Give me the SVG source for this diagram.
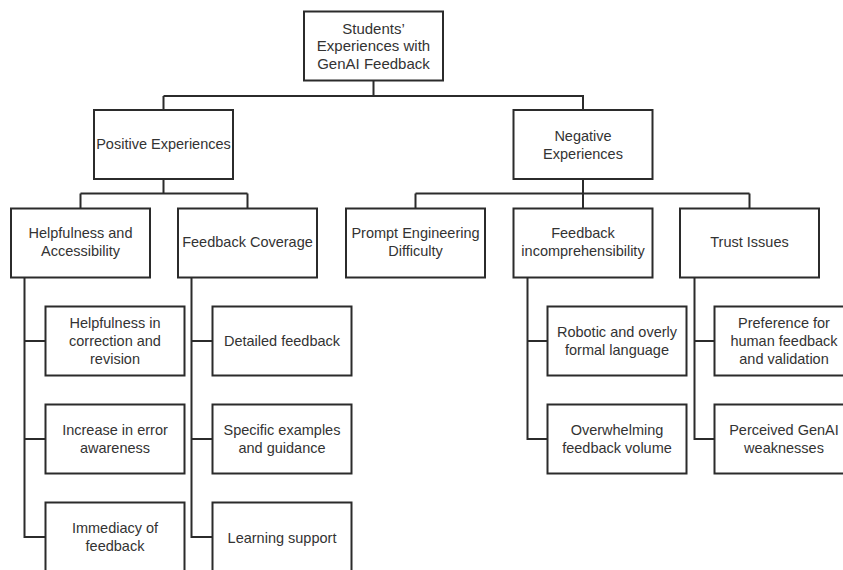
<svg xmlns="http://www.w3.org/2000/svg" width="843" height="570" viewBox="0 0 843 570">
<style>
.box{fill:#fff;stroke:#2b2b2b;stroke-width:2}
.con{fill:none;stroke:#2b2b2b;stroke-width:2}
text{font-family:"Liberation Sans",Arial,sans-serif;font-size:14.5px;fill:#333;text-anchor:middle}
.big{font-size:15px}
.mid{font-size:14.5px}
</style>
<rect width="843" height="570" fill="#fff"/>
<g id="connectors">
<path class="con" d="M373.5 80.5V96M163.5 96H583V110M163.5 96V110"/>
<path class="con" d="M163.5 179V193.5M80.5 193.5H247.5M80.5 193.5V208.5M247.5 193.5V208.5"/>
<path class="con" d="M583 179V208.5M415.5 193.5H749.5M415.5 193.5V208.5M749.5 193.5V208.5"/>
<path class="con" d="M24.5 277.5V537H45.5M24.5 341H45.5M24.5 439H45.5"/>
<path class="con" d="M191.5 277.5V537H212.5M191.5 341H212.5M191.5 439H212.5"/>
<path class="con" d="M527.5 277.5V439H547.5M527.5 341H547.5"/>
<path class="con" d="M694.5 277.5V439H714.5M694.5 341H714.5"/>
</g>
<g id="root"><rect class="box" x="304" y="11.5" width="139" height="69"/>
<text class="big" x="373.5" y="33.5">Students’</text><text class="big" x="373.5" y="51">Experiences with</text><text class="big" x="373.5" y="69">GenAI Feedback</text></g>
<g id="positive"><rect class="box" x="94" y="110" width="139" height="69"/>
<text class="mid" x="163.5" y="149">Positive Experiences</text></g>
<g id="negative"><rect class="box" x="513.5" y="110" width="139" height="69"/>
<text class="mid" x="583" y="140.5">Negative</text><text class="mid" x="583" y="158.5">Experiences</text></g>
<g id="helpfulness"><rect class="box" x="11" y="208.5" width="139" height="69"/>
<text x="80.5" y="238">Helpfulness and</text><text x="80.5" y="256">Accessibility</text></g>
<g id="coverage"><rect class="box" x="178" y="208.5" width="139" height="69"/>
<text x="247.5" y="247">Feedback Coverage</text></g>
<g id="prompt"><rect class="box" x="346" y="208.5" width="139" height="69"/>
<text x="415.5" y="238">Prompt Engineering</text><text x="415.5" y="256">Difficulty</text></g>
<g id="incomprehensibility"><rect class="box" x="513.5" y="208.5" width="139" height="69"/>
<text x="583" y="238">Feedback</text><text x="583" y="256">incomprehensibility</text></g>
<g id="trust"><rect class="box" x="680" y="208.5" width="139" height="69"/>
<text x="749.5" y="247">Trust Issues</text></g>
<g id="correction"><rect class="box" x="45.5" y="306.5" width="139" height="69"/>
<text x="115" y="328">Helpfulness in</text><text x="115" y="346">correction and</text><text x="115" y="364">revision</text></g>
<g id="error"><rect class="box" x="45.5" y="404.5" width="139" height="69"/>
<text x="115" y="435">Increase in error</text><text x="115" y="453">awareness</text></g>
<g id="immediacy"><rect class="box" x="45.5" y="502.5" width="139" height="69"/>
<text x="115" y="533">Immediacy of</text><text x="115" y="551">feedback</text></g>
<g id="detailed"><rect class="box" x="212.5" y="306.5" width="139" height="69"/>
<text x="282" y="346">Detailed feedback</text></g>
<g id="examples"><rect class="box" x="212.5" y="404.5" width="139" height="69"/>
<text x="282" y="435">Specific examples</text><text x="282" y="453">and guidance</text></g>
<g id="learning"><rect class="box" x="212.5" y="502.5" width="139" height="69"/>
<text x="282" y="543">Learning support</text></g>
<g id="robotic"><rect class="box" x="547.5" y="306.5" width="139" height="69"/>
<text x="617" y="337">Robotic and overly</text><text x="617" y="355">formal language</text></g>
<g id="overwhelming"><rect class="box" x="547.5" y="404.5" width="139" height="69"/>
<text x="617" y="435">Overwhelming</text><text x="617" y="453">feedback volume</text></g>
<g id="preference"><rect class="box" x="714.5" y="306.5" width="139" height="69"/>
<text x="784" y="328">Preference for</text><text x="784" y="346">human feedback</text><text x="784" y="364">and validation</text></g>
<g id="weaknesses"><rect class="box" x="714.5" y="404.5" width="139" height="69"/>
<text x="784" y="435">Perceived GenAI</text><text x="784" y="453">weaknesses</text></g>
</svg>
